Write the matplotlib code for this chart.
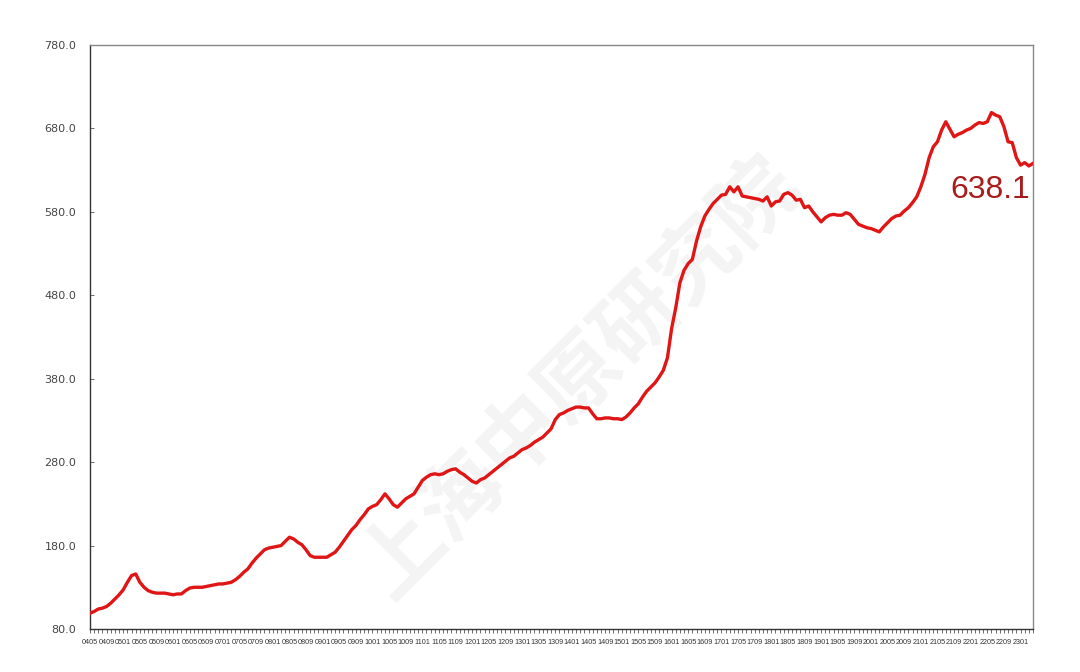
import matplotlib
matplotlib.use("Agg")
import matplotlib.pyplot as plt
import pandas as pd

# monthly index, 2004-05 .. 2023-04
months = pd.date_range("2004-05-01", "2023-04-01", freq="MS")

values = [
    99, 101, 104, 105, 107, 111, 116, 121, 127, 136, 144, 146,
    136, 130, 126, 124, 123, 123, 123, 122, 121, 122, 122, 126,
    129, 130, 130, 130, 131, 132, 133, 134, 134, 135, 136, 139,
    143, 148, 152, 159, 165, 170, 175, 177, 178, 179, 180, 185,
    190, 188, 184, 181, 175, 168, 166, 166, 166, 166, 169, 172,
    178, 185, 192, 199, 204, 211, 217, 224, 227, 229, 235, 242,
    236, 229, 226, 231, 236, 239, 242, 250, 258, 262, 265, 266,
    265, 266, 269, 271, 272, 268, 265, 261, 257, 255, 259, 261,
    265, 269, 273, 277, 281, 285, 287, 291, 295, 297, 300, 304,
    307, 310, 315, 320, 331, 337, 339, 342, 344, 346, 346, 345,
    345, 338, 332, 332, 333, 333, 332, 332, 331, 334, 339, 345,
    350, 358, 365, 370, 375, 382, 390, 405, 440, 465, 495, 510,
    518, 523, 545, 562, 575, 583, 590, 595, 600, 601, 610, 604,
    610, 599, 598, 597, 596, 595, 593, 598, 587, 592, 593, 601,
    603, 600, 594, 595, 585, 587, 580, 574, 568, 573, 576, 577,
    576, 576, 579, 577, 571, 565, 563, 561, 560, 558, 556, 562,
    567, 572, 575, 576, 581, 585, 591, 598, 610, 625, 645, 658,
    664, 678, 688, 679, 670, 673, 675, 678, 680, 684, 687, 686,
    688, 699, 696, 694, 682, 664, 663, 645, 636, 639, 635, 638.1,
]

last_label = "638.1"
watermark = "上海中原研究院"
y_ticks = [80, 180, 280, 380, 480, 580, 680, 780]

labels = [d.strftime("%y%m") for d in months]
x = list(range(len(values)))

fig = plt.figure(figsize=(10.8, 6.72), dpi=100)
ax = fig.add_axes([90 / 1080, 43 / 672, 943 / 1080, 584 / 672])

# faint watermark behind the line
ax.text(0.52, 0.43, watermark, transform=ax.transAxes, rotation=45,
        ha="center", va="center", fontsize=60, color="#f4f4f4",
        family=["Noto Sans CJK SC", "DejaVu Sans"], fontweight="bold", zorder=0)

ax.plot(x, values, color="#e01515", lw=2.4, zorder=3, solid_joinstyle="round")

ax.text(len(values) - 1.6, 606, last_label, ha="right", va="center",
        fontsize=23, color="#a81c1c", family=["Liberation Sans", "DejaVu Sans"])

ax.set_xlim(0, len(values) - 1)
ax.set_ylim(80, 780)
ax.set_yticks(y_ticks)
ax.set_yticklabels([f"{v:.1f}" for v in y_ticks], fontsize=8, color="#444444")

major = [i for i in x if i % 4 == 0]
ax.set_xticks(major)
ax.set_xticklabels([labels[i] for i in major], fontsize=5.2, color="#333333",
                   family=["Liberation Sans", "DejaVu Sans"])
ax.set_xticks(x, minor=True)
ax.tick_params(axis="x", which="both", length=3, width=0.6, color="#555555", pad=4)
ax.tick_params(axis="y", length=3, width=0.6, color="#555555", pad=10, direction="in")

for s in ax.spines.values():
    s.set_color("#888888")
    s.set_linewidth(1.0)
ax.spines["left"].set_color("#333333")
ax.spines["bottom"].set_color("#333333")

fig.savefig("out.png", dpi=100)
